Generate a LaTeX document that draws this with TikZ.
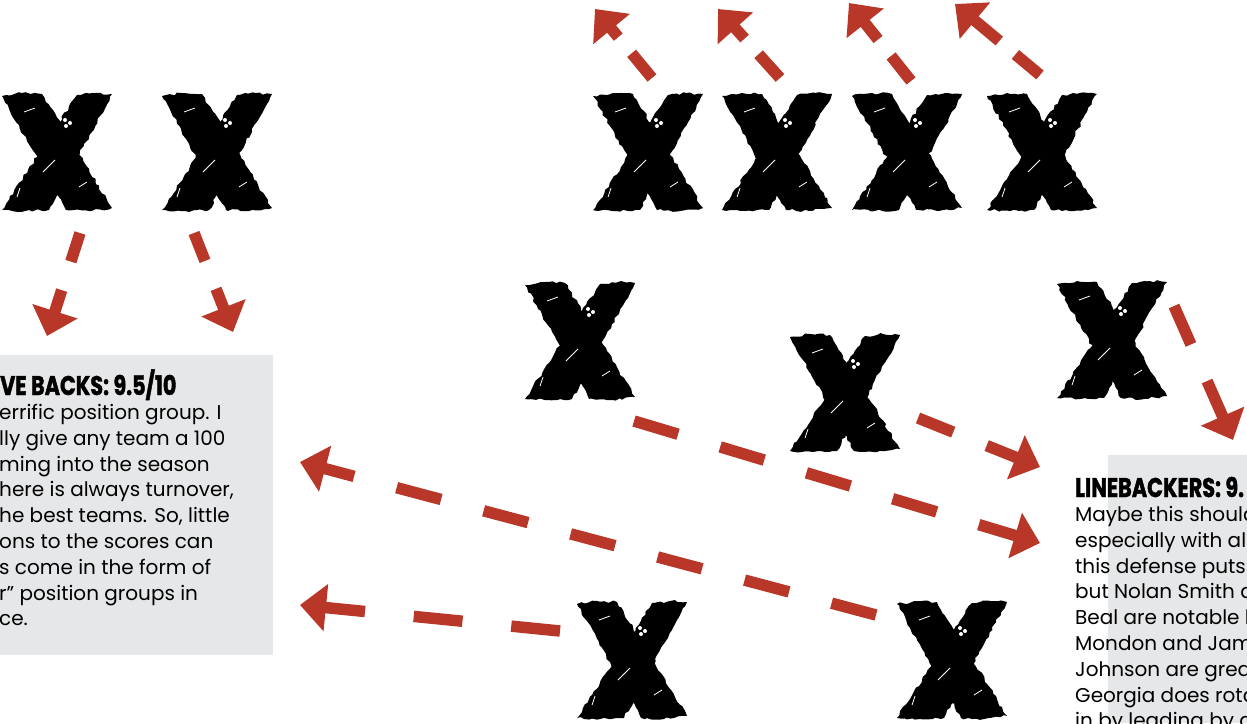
\documentclass[tikz,border=0pt]{standalone}
\usepackage{fontspec}
\setmainfont{Poppins}
\newfontfamily\headfont[FakeStretch=0.77,FakeBold=1.5]{Poppins}
\usetikzlibrary{arrows.meta,decorations.pathmorphing}
\definecolor{playred}{HTML}{B93728}
\definecolor{boxgray}{HTML}{E6E7E8}
\pgfmathsetseed{7}
\tikzset{
  pics/xmark/.style={code={
    \fill[black, decorate, decoration={random steps,segment length=4pt,amplitude=1.3pt}]
      (-55,-56) -- (-35,-59) -- (-15,-58) -- (55,56) -- (32,59) -- (9,58) -- cycle;
    \fill[black, decorate, decoration={random steps,segment length=4pt,amplitude=1.3pt}]
      (20,-57) -- (38,-59) -- (55,-58) -- (-8,58) -- (-32,59) -- (-55,58) -- cycle;
    \fill[white] (8,-32) circle (2) (13,-29) circle (2) (9,-26) circle (2);
    \draw[white, line width=1pt] (-14,20) -- (-2,8);
    \draw[white, line width=0.8pt] (-33,-40) -- (-22,-44) (22,35) -- (30,30) (-40,45) -- (-37,36);
  }},
  route/.style={draw=playred, line width=11.5pt, -{Triangle[length=26pt,width=46pt]}},
  shortdash/.style={dash pattern=on 32pt off 21pt},
  middash/.style={dash pattern=on 38pt off 36pt},
  longdash/.style={dash pattern=on 46pt off 44pt},
  widedash/.style={dash pattern=on 49pt off 49pt},
  headtext/.style={anchor=base west, inner sep=0pt, font=\headfont\bfseries\fontsize{27}{30}\selectfont},
  bodytext/.style={anchor=north west, inner sep=0pt, align=left, font=\fontsize{20}{25.8}\selectfont}
}

\begin{document}
\begin{tikzpicture}[x=1pt, y=-1pt]
	\useasboundingbox (0,0) rectangle (1247,723);

	% Text panels
	\fill[boxgray] (0,355) rectangle (273,655);
	\fill[boxgray] (1108,455) rectangle (1247,723);

	% Defensive backs
	\pic at (57,152) {xmark};
	\pic at (217,152) {xmark};

	% Linemen
	\pic at (648,152) {xmark};
	\pic at (777,152) {xmark};
	\pic at (907,152) {xmark};
	\pic at (1042,152) {xmark};

	% Linebackers
	\pic at (580,341) {xmark};
	\pic at (845,393) {xmark};
	\pic at (1112,340) {xmark};

	% Safeties
	\pic at (632,660) {xmark};
	\pic at (952,660) {xmark};

	% Route ends
	\coordinate (dl1) at (652,78);   \coordinate (dl1e) at (595,9);
	\coordinate (dl2) at (780,78);   \coordinate (dl2e) at (718,9);
	\coordinate (dl3) at (911,81);   \coordinate (dl3e) at (849,3);
	\coordinate (dl4) at (1040,75);  \coordinate (dl4e) at (955,4);
	\coordinate (db1) at (80,233);   \coordinate (db1e) at (47,336);
	\coordinate (db2) at (194,233);  \coordinate (db2e) at (233,332);
	\coordinate (lb1) at (1174,306); \coordinate (lb1e) at (1233,440);
	\coordinate (lb2) at (918,418);  \coordinate (lb2e) at (1040,467);
	\coordinate (lb3) at (634,421);  \coordinate (lb3e) at (1040,543);
	\coordinate (sf1) at (876,615);  \coordinate (sf1e) at (300,462);
	\coordinate (sf2) at (560,631);  \coordinate (sf2e) at (300,605);

	% Routes
	\draw[route, shortdash] (dl1) -- (dl1e);
	\draw[route, shortdash] (dl2) -- (dl2e);
	\draw[route, shortdash] (dl3) -- (dl3e);
	\draw[route, shortdash] (dl4) -- (dl4e);
	\draw[route, dash pattern=on 30pt off 30pt] (db1) -- (db1e);
	\draw[route, dash pattern=on 30pt off 30pt] (db2) -- (db2e);
	\draw[route, dash pattern=on 42pt off 40pt] (lb1) -- (lb1e);
	\draw[route, middash] (lb2) -- (lb2e);
	\draw[route, longdash] (lb3) -- (lb3e);
	\draw[route, longdash] (sf1) -- (sf1e);
	\draw[route, widedash] (sf2) -- (sf2e);

	% Panel texts
	\node[headtext] (dbhead) at (0,395) {VE BACKS: 9.5/10};
	\node[bodytext] (dbtext) at (-1,404) {errific position group. I\\
		lly give any team a 100\\
		ming into the season\\
		here is always turnover,\\
		he best teams. So, little\\
		ons to the scores can\\
		s come in the form of\\
		r” position groups in\\
		ce.};
	\node[headtext] (lbhead) at (1075,497) {LINEBACKERS: 9.};
	\node[bodytext] (lbtext) at (1075,506) {Maybe this should\\
		especially with all\\
		this defense puts u\\
		but Nolan Smith a\\
		Beal are notable l\\
		Mondon and Jam\\
		Johnson are great\\
		Georgia does rota\\
		in by leading by a};
\end{tikzpicture}
\end{document}
